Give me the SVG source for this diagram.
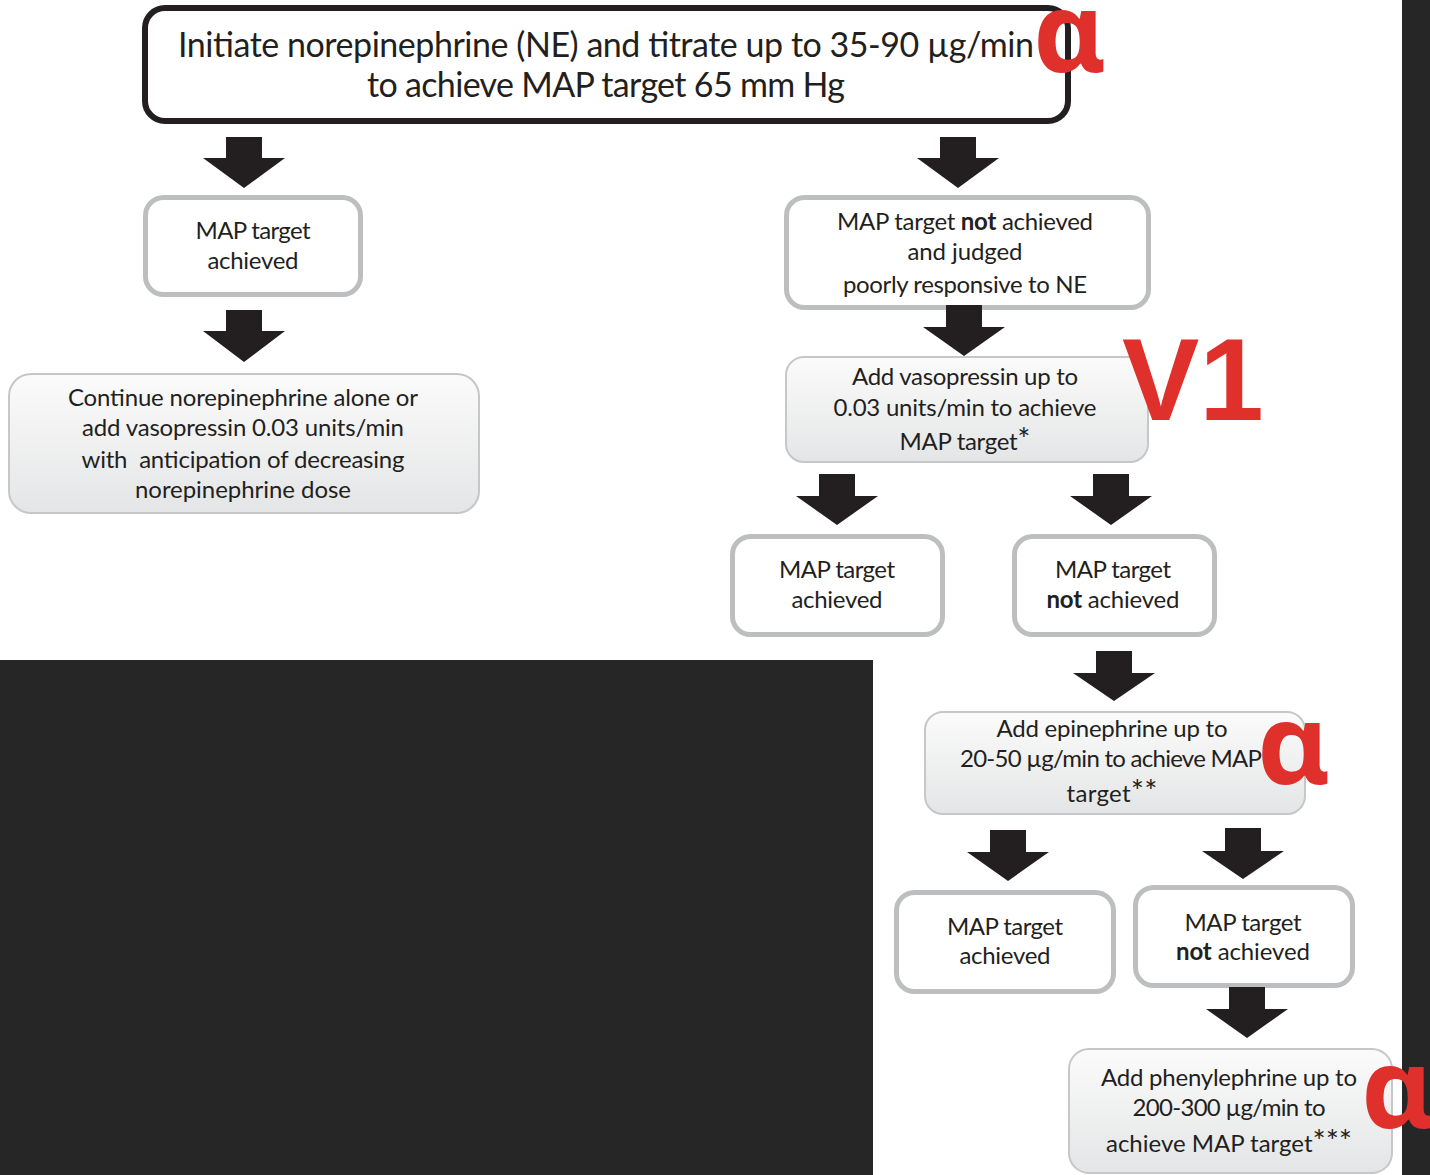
<svg xmlns="http://www.w3.org/2000/svg" width="1430" height="1175" viewBox="0 0 1430 1175">
<defs>
<linearGradient id="g" x1="0" y1="0" x2="0" y2="1">
<stop offset="0" stop-color="#fbfbfb"/>
<stop offset="1" stop-color="#e4e5e6"/>
</linearGradient>
<style>
.t{font-family:Lato,"Liberation Sans",sans-serif;fill:#231f20;text-anchor:middle;font-size:24px}
.big{font-size:34px}
.dec{fill:#ffffff;stroke:#bcbec0;stroke-width:5}
.act{fill:url(#g);stroke:#c6c7c9;stroke-width:2}
.ar{fill:#231f20}
.b{font-weight:bold}
.s{font-size:31px}
.red{fill:#e0302c;font-weight:bold}
.al{font-family:"Noto Sans","Open Sans",sans-serif;font-size:112px}
.v{font-family:"Liberation Sans",Arial,sans-serif;font-size:116px}
.dk{fill:#262626}
</style>
</defs>
<rect x="0" y="0" width="1430" height="1175" fill="#ffffff"/>
<rect class="dk" x="0" y="660" width="873" height="515"/>
<rect class="dk" x="1402" y="0" width="28" height="1175"/>

<g id="n0">
<rect x="145" y="8" width="923" height="113" rx="20" fill="#ffffff" stroke="#231f20" stroke-width="6"/>
<text class="t big" x="606" y="57" textLength="856">Initiate norepinephrine (NE) and titrate up to 35-90 µg/min</text>
<text class="t big" x="606" y="97" textLength="478">to achieve MAP target 65 mm Hg</text>
</g>
<g id="n1">
<rect class="dec" x="145.5" y="197.5" width="215" height="97" rx="18"/>
<text class="t" x="253" y="239" textLength="115">MAP target</text>
<text class="t" x="253" y="269" textLength="91">achieved</text>
</g>
<g id="n2">
<rect class="act" x="9" y="374" width="470" height="139" rx="22"/>
<text class="t" x="243" y="406" textLength="350">Continue norepinephrine alone or</text>
<text class="t" x="243" y="436" textLength="322">add vasopressin 0.03 units/min</text>
<text class="t" x="243" y="468" textLength="323" xml:space="preserve">with  anticipation of decreasing</text>
<text class="t" x="243" y="498" textLength="216">norepinephrine dose</text>
</g>
<g id="n3">
<rect class="dec" x="786.5" y="197.5" width="362" height="110" rx="18"/>
<text class="t" x="965" y="230" textLength="256">MAP target <tspan class="b">not</tspan> achieved</text>
<text class="t" x="965" y="260" textLength="115">and judged</text>
<text class="t" x="965" y="293" textLength="244">poorly responsive to NE</text>
</g>
<g id="n4">
<rect class="act" x="786" y="357" width="362" height="105" rx="18"/>
<text class="t" x="965" y="385" textLength="226">Add vasopressin up to</text>
<text class="t" x="965" y="416" textLength="263">0.03 units/min to achieve</text>
<text class="t" x="965" y="450" textLength="131">MAP target<tspan class="s">*</tspan></text>
</g>
<g id="n5">
<rect class="dec" x="732.5" y="536.5" width="210" height="98" rx="18"/>
<text class="t" x="837" y="578" textLength="116">MAP target</text>
<text class="t" x="837" y="608" textLength="91">achieved</text>
</g>
<g id="n6">
<rect class="dec" x="1014.5" y="536.5" width="200" height="98" rx="18"/>
<text class="t" x="1113" y="578" textLength="116">MAP target</text>
<text class="t" x="1113" y="608" textLength="133"><tspan class="b">not</tspan> achieved</text>
</g>
<g id="n7">
<rect class="act" x="925" y="712" width="380" height="102" rx="18"/>
<text class="t" x="1112" y="737" textLength="231">Add epinephrine up to</text>
<text class="t" x="1111" y="767" textLength="302">20-50 µg/min to achieve MAP</text>
<text class="t" x="1112" y="802" textLength="91">target<tspan class="s">**</tspan></text>
</g>
<g id="n8">
<rect class="dec" x="896.5" y="892.5" width="217" height="99" rx="18"/>
<text class="t" x="1005" y="935" textLength="116">MAP target</text>
<text class="t" x="1005" y="964" textLength="91">achieved</text>
</g>
<g id="n9">
<rect class="dec" x="1135.5" y="887.5" width="217" height="98" rx="18"/>
<text class="t" x="1243" y="931" textLength="117">MAP target</text>
<text class="t" x="1243" y="960" textLength="134"><tspan class="b">not</tspan> achieved</text>
</g>
<g id="n10">
<rect class="act" x="1069" y="1049" width="323" height="124" rx="20"/>
<text class="t" x="1229" y="1086" textLength="256">Add phenylephrine up to</text>
<text class="t" x="1229" y="1116" textLength="193">200-300 µg/min to</text>
<text class="t" x="1229" y="1152" textLength="246">achieve MAP target<tspan class="s">***</tspan></text>
</g>

<g id="connectors">
<path class="ar" d="M226 137H262V158H285L244 188L203 158H226Z"/>
<path class="ar" d="M940 137H976V158H999L958 188L917 158H940Z"/>
<path class="ar" d="M226 310H262V331H285L244 362L203 331H226Z"/>
<path class="ar" d="M946 305H982V327H1005L964 356L923 327H946Z"/>
<path class="ar" d="M819 474H855V496H878L837 525L796 496H819Z"/>
<path class="ar" d="M1093 474H1129V496H1152L1111 525L1070 496H1093Z"/>
<path class="ar" d="M1096 651H1132V673H1155L1114 701L1073 673H1096Z"/>
<path class="ar" d="M990 830H1026V852H1049L1008 881L967 852H990Z"/>
<path class="ar" d="M1225 828H1261V851H1284L1243 879L1202 851H1225Z"/>
<path class="ar" d="M1229 987H1265V1009H1288L1247 1038L1206 1009H1229Z"/>
</g>

<g id="labels">
<text class="red al" x="1033" y="72">α</text>
<text class="red v" x="1122" y="420">V1</text>
<text class="red al" x="1257" y="784">α</text>
<text class="red al" x="1361" y="1128">α</text>
</g>
</svg>
